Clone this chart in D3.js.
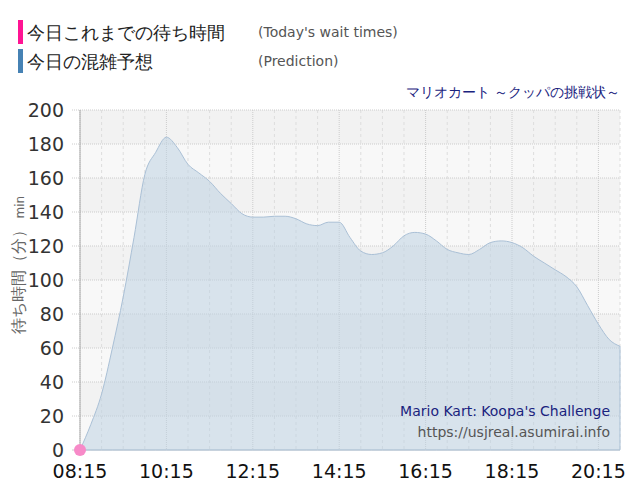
<!DOCTYPE html><html><head><meta charset="utf-8"><script src="https://cdn.jsdelivr.net/npm/d3@7"></script>
<style>body{margin:0;background:#fff}text{font-family:"DejaVu Sans",sans-serif}</style></head><body><svg id="c" width="640" height="500"></svg><script>
const times=["08:15","08:30","08:45","09:00","09:15","09:30","09:45","10:00","10:15","10:30","10:45","11:00","11:15","11:30","11:45","12:00","12:15","12:30","12:45","13:00","13:15","13:30","13:45","14:00","14:15","14:30","14:45","15:00","15:15","15:30","15:45","16:00","16:15","16:30","16:45","17:00","17:15","17:30","17:45","18:00","18:15","18:30","18:45","19:00","19:15","19:30","19:45","20:00","20:15","20:30","20:45"];
const prediction=[0,15,33,60,90,125,162,175,184,178,168,163,158,151,145,139,137,137,137.5,137.5,136,133,132,134,134,125,117,115,116,120,126,128,127,123,118,116,115,118,122,123,122,119,114,110,106,102,96,85,74,65,61];
const actualTimes=["08:15"];const actual=[0];
const xTicks=["08:15","10:15","12:15","14:15","16:15","18:15","20:15"];
const yTicks=[0,20,40,60,80,100,120,140,160,180,200];
const tm=s=>{const [h,m]=s.split(":").map(Number);return h*60+m;};
const svg=d3.select("#c");
const L=80,R=620,T=110,B=450;
const x=d3.scaleLinear().domain([tm("08:15"),tm("20:45")]).range([L,R]);
const y=d3.scaleLinear().domain([0,200]).range([B,T]);
for(let i=0;i<10;i++){svg.append("rect").attr("x",L).attr("width",R-L).attr("y",y(yTicks[i+1])).attr("height",y(yTicks[i])-y(yTicks[i+1])).attr("fill",i%2?"#f2f2f2":"#f8f8f8");}
for(let t=tm("08:15");t<=tm("20:45");t+=30){const major=(t-tm("08:15"))%120===0;
 svg.append("line").attr("x1",x(t)).attr("x2",x(t)).attr("y1",T).attr("y2",B).attr("stroke",major?"#ccc":"#ddd").attr("stroke-dasharray",major?"1,1":"3,3");}
yTicks.forEach(v=>svg.append("line").attr("x1",L-8).attr("x2",R).attr("y1",y(v)).attr("y2",y(v)).attr("stroke","#ccc").attr("stroke-dasharray",v===0?null:"1,1"));
const data=times.map((t,i)=>[tm(t),prediction[i]]);
svg.append("path").datum(data).attr("d",d3.area().x(d=>x(d[0])).y0(B).y1(d=>y(d[1])).curve(d3.curveMonotoneX)).attr("fill","rgba(190,210,226,0.55)").attr("stroke","#aac0d6").attr("stroke-width",1);
svg.append("line").attr("x1",L).attr("x2",L).attr("y1",T).attr("y2",B).attr("stroke","#aaa");
yTicks.forEach(v=>svg.append("text").attr("x",L-16).attr("y",y(v)).attr("dy","0.36em").attr("text-anchor","end").attr("font-size",19).attr("fill","#333").text(v));
xTicks.forEach(t=>svg.append("text").attr("x",x(tm(t))).attr("y",478).attr("text-anchor","middle").attr("font-size",19).attr("fill","#111").text(t));
const yl=svg.append("text").attr("transform","translate(24,265) rotate(-90)").attr("text-anchor","middle").attr("fill","#666").attr("font-size",16);
yl.append("tspan").text("待ち時間（分）");yl.append("tspan").attr("font-size",12).text(" min");
actualTimes.forEach((t,i)=>svg.append("circle").attr("cx",x(tm(t))).attr("cy",y(actual[i])).attr("r",6).attr("fill","#f78ac8"));
svg.append("rect").attr("x",18).attr("y",20).attr("width",5).attr("height",24).attr("fill","#ff1493");
svg.append("rect").attr("x",18).attr("y",49).attr("width",5).attr("height",24).attr("fill","#4682b4");
svg.append("text").attr("x",27).attr("y",39).attr("font-size",18).attr("fill","#222").text("今日これまでの待ち時間");
svg.append("text").attr("x",27).attr("y",68).attr("font-size",18).attr("fill","#222").text("今日の混雑予想");
svg.append("text").attr("x",258).attr("y",37).attr("font-size",14).attr("fill","#555").text("(Today's wait times)");
svg.append("text").attr("x",258).attr("y",66).attr("font-size",14).attr("fill","#555").text("(Prediction)");
svg.append("text").attr("x",620).attr("y",97).attr("text-anchor","end").attr("font-size",14).attr("fill","#1a237e").text("マリオカート ～クッパの挑戦状～");
svg.append("text").attr("x",610).attr("y",416).attr("text-anchor","end").attr("font-size",14).attr("fill","#1a237e").text("Mario Kart: Koopa's Challenge");
svg.append("text").attr("x",610).attr("y",437).attr("text-anchor","end").attr("font-size",14).attr("fill","#555").text("https://usjreal.asumirai.info");
</script></body></html>
